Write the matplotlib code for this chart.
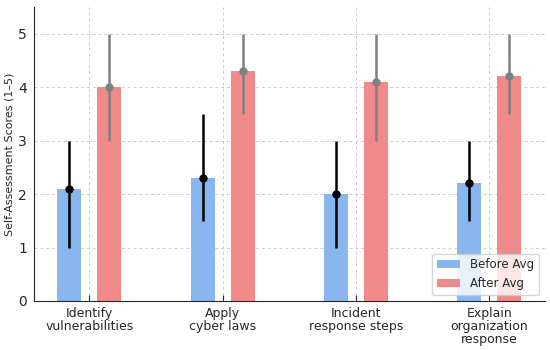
import matplotlib
matplotlib.use("Agg")
import matplotlib.pyplot as plt
import numpy as np

categories = ["Identify\nvulnerabilities", "Apply\ncyber laws", "Incident\nresponse steps", "Explain\norganization\nresponse"]
before_avg = [2.1, 2.3, 2.0, 2.2]
before_min = [1.0, 1.5, 1.0, 1.5]
before_max = [3.0, 3.5, 3.0, 3.0]
after_avg = [4.0, 4.3, 4.1, 4.2]
after_min = [3.0, 3.5, 3.0, 3.5]
after_max = [5.0, 5.0, 5.0, 5.0]

x = np.arange(len(categories))
off = 0.15
w = 0.18
txt = "#262626"

fig = plt.figure(figsize=(5.5, 3.5), dpi=100)
ax = fig.add_axes([0.062, 0.14, 0.928, 0.84])
ax.bar(x - off, before_avg, w, color="#8AB6F0", label="Before Avg", zorder=2)
ax.bar(x + off, after_avg, w, color="#F08A8A", label="After Avg", zorder=2)
b = np.array(before_avg)
a = np.array(after_avg)
ax.errorbar(x - off, b, yerr=[b - np.array(before_min), np.array(before_max) - b],
            fmt="o", color="black", ecolor="black", elinewidth=1.8, markersize=5, capsize=0, zorder=3)
ax.errorbar(x + off, a, yerr=[a - np.array(after_min), np.array(after_max) - a],
            fmt="o", color="gray", ecolor="gray", elinewidth=1.8, markersize=5, capsize=0, zorder=3)
ax.set_xticks(x)
ax.set_xticklabels(categories, fontsize=9, linespacing=1.0, color=txt)
ax.set_ylim(0, 5.5)
ax.set_yticks([0, 1, 2, 3, 4, 5])
ax.tick_params(axis="y", labelsize=10, labelcolor=txt, direction="in", length=0, pad=5)
ax.tick_params(axis="x", direction="in", length=4, color=txt, pad=4)
ax.set_ylabel("Self-Assessment Scores (1–5)", fontsize=8, color=txt, labelpad=3)
ax.grid(True, linestyle=(0, (3, 3)), color="#cccccc", linewidth=0.7, zorder=0)
ax.set_axisbelow(True)
ax.spines["top"].set_visible(False)
ax.spines["right"].set_visible(False)
ax.spines["left"].set_color(txt)
ax.spines["bottom"].set_color(txt)
leg = ax.legend(loc="lower right", fontsize=8.5)
for t in leg.get_texts():
    t.set_color(txt)
fig.savefig("out.png", dpi=100)
